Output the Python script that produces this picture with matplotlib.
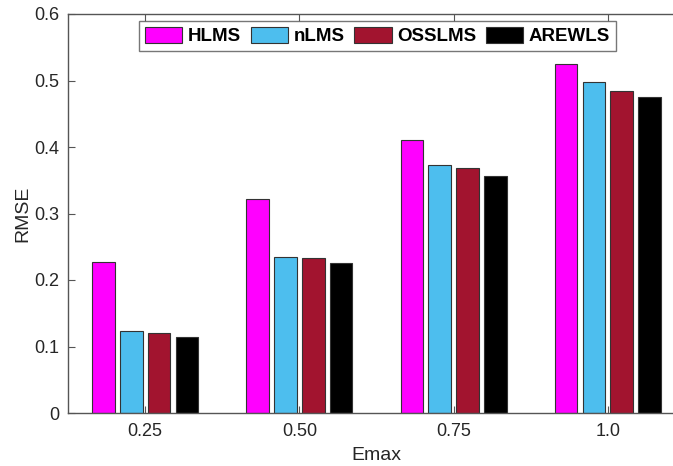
import matplotlib
matplotlib.use("Agg")
import matplotlib.pyplot as plt
import numpy as np

categories = ["0.25", "0.50", "0.75", "1.0"]
series_names = ["HLMS", "nLMS", "OSSLMS", "AREWLS"]
hlms = [0.227, 0.322, 0.410, 0.525]
nlms = [0.123, 0.235, 0.373, 0.497]
osslms = [0.121, 0.233, 0.368, 0.484]
arewls = [0.114, 0.225, 0.356, 0.475]
yticks = [0, 0.1, 0.2, 0.3, 0.4, 0.5, 0.6]
ytick_labels = ["0", "0.1", "0.2", "0.3", "0.4", "0.5", "0.6"]

colors = ["#FF00FF", "#4DBEEE", "#A2142F", "#000000"]

plt.rcParams["font.family"] = ["Liberation Sans", "DejaVu Sans"]

W, H = 673, 466
fig = plt.figure(figsize=(W / 100, H / 100), dpi=100)
ax = fig.add_axes([68 / W, 1 - 413 / H, 617 / W, 399 / H])

x = np.arange(1, len(categories) + 1)
pitch = 0.18
width = 0.146
all_series = [hlms, nlms, osslms, arewls]
handles = []
for i, (vals, name, c) in enumerate(zip(all_series, series_names, colors)):
    b = ax.bar(x + (i - 1.5) * pitch, vals, width, color=c, edgecolor="#333333",
               linewidth=0.8, label=name, zorder=2)
    handles.append(b)

ax.set_xlim(0.5, 4.5)
ax.set_ylim(0, 0.6)
ax.set_xticks(x)
ax.set_xticklabels(categories)
ax.set_yticks(yticks)
ax.set_yticklabels(ytick_labels)

spine_c = "#555555"
for s in ["left", "bottom", "top"]:
    ax.spines[s].set_color(spine_c)
    ax.spines[s].set_linewidth(1.0)
ax.spines["right"].set_visible(False)
ax.tick_params(axis="both", direction="in", length=5, width=0.8, color=spine_c,
               labelsize=13, labelcolor="#262626", top=True, right=False)
ax.tick_params(axis="x", pad=7)
ax.tick_params(axis="y", pad=6)

ax.set_xlabel("Emax", fontsize=14, color="#262626", labelpad=5)
ax.set_ylabel("RMSE", fontsize=14, color="#262626", labelpad=2)

leg = fig.legend(handles=handles, labels=series_names, ncol=4,
                 loc="upper center", bbox_to_anchor=(377.5 / W, 1 - 21 / H),
                 prop={"weight": "bold", "size": 13.5}, frameon=True,
                 fancybox=False, edgecolor="#555555", handlelength=2.0,
                 handleheight=0.95, handletextpad=0.3, columnspacing=0.5,
                 borderpad=0.3, borderaxespad=0)
leg.get_frame().set_linewidth(1.0)

fig.savefig("out.png", dpi=100)
